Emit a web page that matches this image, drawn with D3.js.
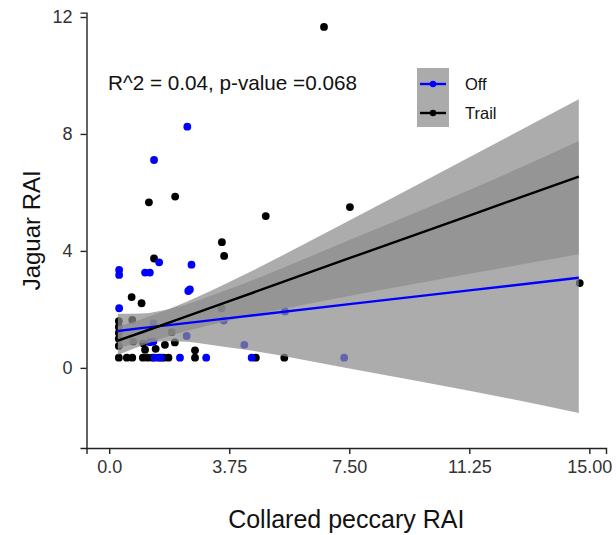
<!DOCTYPE html>
<html>
<head>
<meta charset="utf-8">
<script src="https://cdn.jsdelivr.net/npm/d3@7"></script>
<style>
  body { margin: 0; background: #fff; }
  svg { display: block; font-family: "Liberation Sans", Arial, Helvetica, sans-serif; }
  .axis path, .axis line { stroke: #222; stroke-width: 1.4; }
  .axis text { fill: #333; font-size: 18px; }
</style>
</head>
<body>
<div id="chart"></div>
<script>

// points: [peccary RAI, jaguar RAI]
const trailPoints = [
  [6.71, 11.66], [4.89, 5.19], [7.52, 5.5], [1.24, 5.66], [2.06, 5.86],
  [3.52, 4.30], [3.59, 3.83], [1.40, 3.74], [0.70, 2.42], [1.01, 2.21],
  [3.51, 2.04], [0.72, 1.64], [1.95, 1.22], [14.7, 2.90],
  [0.3, 1.6], [0.3, 1.4], [0.3, 1.2], [0.3, 1.0], [0.3, 0.75],
  [0.75, 0.9], [1.06, 0.84], [1.12, 0.62], [1.45, 0.65], [1.74, 0.79], [2.05, 0.87],
  [2.68, 0.6],
  [0.3, 0.35], [0.55, 0.35], [0.72, 0.35], [1.05, 0.35], [1.2, 0.35], [1.35, 0.35],
  [1.55, 0.35], [1.7, 0.35], [1.85, 0.35], [2.68, 0.35], [4.58, 0.35], [5.47, 0.35]
]

const offPoints = [
  [2.44, 8.25], [1.40, 7.11], [1.56, 3.61], [2.57, 3.53], [0.31, 3.35], [0.31, 3.18],
  [1.12, 3.26], [1.27, 3.26], [2.47, 2.63], [2.52, 2.68], [0.31, 2.04], [1.38, 1.53],
  [2.42, 1.09], [3.58, 1.62], [4.22, 0.79], [5.49, 1.93], [1.27, 0.88], [1.38, 0.9],
  [1.42, 0.35], [1.62, 0.35], [2.21, 0.35], [3.03, 0.35], [4.45, 0.35], [7.34, 0.35]
]

// fitted lines and confidence bands, read at these x positions
const bandX = [0.27, 1, 2, 3.75, 7.5, 11.25, 14.67]
const trailFit = [0.93, 1.21, 1.60, 2.28, 3.75, 5.21, 6.54]
const trailUpper = [1.42, 1.66, 2.07, 2.94, 5.04, 7.20, 9.19]
const trailLower = [0.44, 0.76, 1.13, 1.62, 2.46, 3.22, 3.89]
const offFit = [1.26, 1.36, 1.48, 1.70, 2.18, 2.65, 3.08]
const offUpper = [1.85, 1.86, 2.05, 2.70, 4.37, 6.08, 7.76]
const offLower = [0.67, 0.85, 0.91, 0.70, -0.02, -0.78, -1.54]

const xTicks = [0, 3.75, 7.5, 11.25, 15]
const xTickLabels = ['0.0', '3.75', '7.50', '11.25', '15.00']
const yTicks = [0, 4, 8, 12]

const groups = ['Off', 'Trail']
const groupColors = ['#0000ff', '#000000']

const width = 616, height = 535
const margin = {top: 12.6, right: 10, bottom: 87, left: 86.5}

const svg = d3.select('#chart').append('svg')
    .attr('width', width)
    .attr('height', height)

const x = d3.scaleLinear().domain([-0.71, 15.52]).range([margin.left, width - margin.right])
const y = d3.scaleLinear().domain([-2.74, 12.15]).range([height - margin.bottom, margin.top])

// points first, the bands are laid over them
svg.append('g').selectAll('circle')
    .data(trailPoints)
    .join('circle')
    .attr('cx', d => x(d[0]))
    .attr('cy', d => y(d[1]))
    .attr('r', 3.9)
    .attr('fill', groupColors[1])

svg.append('g').selectAll('circle')
    .data(offPoints)
    .join('circle')
    .attr('cx', d => x(d[0]))
    .attr('cy', d => y(d[1]))
    .attr('r', 3.9)
    .attr('fill', groupColors[0])

const band = d3.area()
    .x((d, i) => x(bandX[i]))
    .y0(d => y(d[0]))
    .y1(d => y(d[1]))
    .curve(d3.curveMonotoneX)

const fitLine = d3.line()
    .x((d, i) => x(bandX[i]))
    .y(d => y(d))

const series = [
  {lower: offLower, upper: offUpper, fit: offFit, color: groupColors[0]},
  {lower: trailLower, upper: trailUpper, fit: trailFit, color: groupColors[1]}
]

series.forEach(s => {
    svg.append('path')
        .datum(s.lower.map((v, i) => [v, s.upper[i]]))
        .attr('d', band)
        .attr('fill', '#8c8c8c')
        .attr('fill-opacity', 0.72)
})

series.forEach(s => {
    svg.append('path')
        .datum(s.fit)
        .attr('d', fitLine)
        .attr('fill', 'none')
        .attr('stroke', s.color)
        .attr('stroke-width', 2.4)
})

// axes
svg.append('g').classed('axis', true)
    .attr('transform', 'translate(0,' + (height - margin.bottom) + ')')
    .call(d3.axisBottom(x).tickValues(xTicks)
        .tickFormat((d, i) => xTickLabels[i])
        .tickSizeOuter(0).tickSize(6).tickPadding(6))

svg.append('g').classed('axis', true)
    .attr('transform', 'translate(' + margin.left + ',0)')
    .call(d3.axisLeft(y).tickValues(yTicks)
        .tickFormat(d3.format('d'))
        .tickSizeOuter(0).tickSize(6).tickPadding(8))

svg.selectAll('.axis text').attr('font-family', null)

svg.append('text')
    .text('Collared peccary RAI')
    .attr('x', (margin.left + width - margin.right) / 2)
    .attr('y', 528)
    .attr('text-anchor', 'middle')
    .attr('font-size', 25)
    .attr('fill', '#111')

svg.append('text')
    .text('Jaguar RAI')
    .attr('text-anchor', 'middle')
    .attr('font-size', 24)
    .attr('fill', '#111')
    .attr('transform', 'translate(40,' + ((margin.top + height - margin.bottom) / 2) + ') rotate(270)')

svg.append('text')
    .text('R^2 = 0.04, p-value =0.068')
    .attr('x', 108)
    .attr('y', 90)
    .attr('font-size', 20.7)
    .attr('fill', '#111')

// legend
const legend = svg.append('g').attr('transform', 'translate(417,68)')
legend.append('rect')
    .attr('width', 32)
    .attr('height', 59)
    .attr('fill', '#ababab')

groups.forEach((g, i) => {
    let ly = 16 + i * 29
    legend.append('line')
        .attr('x1', 3).attr('x2', 29)
        .attr('y1', ly).attr('y2', ly)
        .attr('stroke', groupColors[i])
        .attr('stroke-width', 2.4)
    legend.append('circle')
        .attr('cx', 16).attr('cy', ly).attr('r', 3.2)
        .attr('fill', groupColors[i])
    legend.append('text')
        .text(g)
        .attr('x', 48)
        .attr('y', ly + 5.5)
        .attr('font-size', 16.5)
        .attr('fill', '#111')
})
</script>
</body>
</html>
